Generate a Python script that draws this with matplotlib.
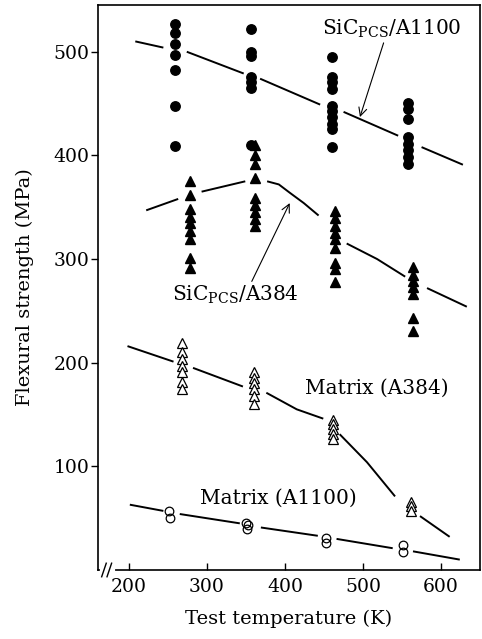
import numpy as np
import matplotlib
matplotlib.use("Agg")
import matplotlib.pyplot as plt

plt.rcParams["font.family"] = "DejaVu Serif"
plt.rcParams["mathtext.fontset"] = "dejavuserif"

nan = np.nan

# SiC(PCS)/A1100 -- filled circles
sic1100_x = [259] * 7 + [356] * 7 + [460] * 10 + [558] * 8
sic1100_y = [527, 518, 507, 497, 482, 448, 409,
             522, 500, 496, 476, 471, 465, 410,
             495, 476, 471, 464, 448, 443, 437, 430, 425, 408,
             451, 445, 435, 418, 411, 405, 398, 392]

# SiC(PCS)/A384 -- filled triangles
sic384_x = [278] * 9 + [361] * 9 + [464] * 9 + [564] * 7
sic384_y = [375, 362, 348, 341, 335, 327, 319, 301, 291,
            410, 400, 392, 378, 359, 352, 345, 339, 332,
            346, 340, 332, 325, 319, 311, 296, 290, 278,
            292, 285, 279, 273, 266, 243, 231]

# Matrix (A384) -- open triangles
m384_x = [268] * 7 + [360] * 6 + [462] * 5 + [561] * 3
m384_y = [219, 210, 204, 197, 191, 181, 175,
          191, 185, 180, 175, 168, 160,
          145, 141, 136, 131, 126,
          66, 62, 57]

# Matrix (A1100) -- open circles
m1100_x = [251, 253, 350, 352, 351, 453, 453, 551, 551]
m1100_y = [57, 50, 45, 43, 40, 31, 26, 24, 17]

# fitted curves (nan = gap around data points)
c1100_x = [208, 244, nan, 274, 347, nan, 368, 445, nan, 475, 545, nan, 575, 628]
c1100_y = [510, 504, nan, 500, 479, nan, 474, 449, nan, 442, 419, nan, 408, 391]

c384_x = [222, 263, nan, 293, 321, 349, nan, 377, 392, 406, 424, 443, nan, 479, 518, 554, nan, 582, 633]
c384_y = [347, 358, nan, 365, 370, 375, nan, 375, 372, 364, 354, 342, nan, 315, 300, 283, nan, 272, 254]

cm384_x = [198, 257, nan, 282, 346, nan, 376, 415, 449, nan, 470, 505, 541, nan, 573, 611]
cm384_y = [216, 201, nan, 195, 177, nan, 171, 155, 146, nan, 131, 104, 71, nan, 52, 32]

cm1100_x = [201, 244, nan, 265, 342, nan, 369, 442, nan, 466, 538, nan, 564, 624]
cm1100_y = [63, 57, nan, 54, 45, nan, 41, 33, nan, 30, 21, nan, 18, 10]

fig = plt.figure(figsize=(4.82, 6.39), dpi=100)
ax = fig.add_axes([0.203, 0.108, 0.793, 0.884])

lw = 1.4
for cx, cy in [(c1100_x, c1100_y), (c384_x, c384_y), (cm384_x, cm384_y), (cm1100_x, cm1100_y)]:
    ax.plot(cx, cy, color="black", lw=lw, solid_capstyle="butt")

ms = 6.8
ax.plot(sic1100_x, sic1100_y, "o", color="black", ms=ms, ls="none")
ax.plot(sic384_x, sic384_y, "^", color="black", ms=ms, ls="none")
ax.plot(m384_x, m384_y, "^", mfc="white", mec="black", mew=0.9, ms=ms, ls="none")
ax.plot(m1100_x, m1100_y, "o", mfc="none", mec="black", mew=0.9, ms=6.2, ls="none")

ax.set_xlim(160, 650)
ax.set_ylim(0, 545)
ax.set_xticks([200, 300, 400, 500, 600])
ax.set_yticks([100, 200, 300, 400, 500])
ax.tick_params(axis="x", direction="in", length=5, width=1, labelsize=13.5, pad=6)
ax.tick_params(axis="y", direction="out", length=5, width=1, labelsize=13.5, pad=1)
for s in ax.spines.values():
    s.set_linewidth(1.2)

ax.set_xlabel("Test temperature (K)", fontsize=14, labelpad=10)
ax.set_ylabel("Flexural strength (MPa)", fontsize=14, labelpad=14)

# axis break marks on the bottom spine
ax.plot([0.012, 0.04], [0, 0], transform=ax.transAxes, color="white", lw=3, clip_on=False, zorder=5)
for bx in [0.016, 0.030]:
    ax.plot([bx - 0.006, bx + 0.006], [-0.012, 0.012], transform=ax.transAxes,
            color="black", lw=1.0, clip_on=False, zorder=6)

ax.annotate("SiC$_{\\mathregular{PCS}}$/A1100", xy=(496, 437), xytext=(447, 522),
            fontsize=14.5, va="center", ha="left",
            arrowprops=dict(arrowstyle="->", lw=0.8, color="black",
                            shrinkA=0, shrinkB=0, relpos=(0.45, 0)))
ax.annotate("SiC$_{\\mathregular{PCS}}$/A384", xy=(406, 354), xytext=(255, 265),
            fontsize=14.5, va="center", ha="left",
            arrowprops=dict(arrowstyle="->", lw=0.8, color="black",
                            shrinkA=0, shrinkB=0, relpos=(0.62, 1)))
ax.text(426, 175, "Matrix (A384)", fontsize=14.5, va="center", ha="left")
ax.text(291, 69, "Matrix (A1100)", fontsize=14.5, va="center", ha="left")

fig.savefig("out.png", dpi=100)
